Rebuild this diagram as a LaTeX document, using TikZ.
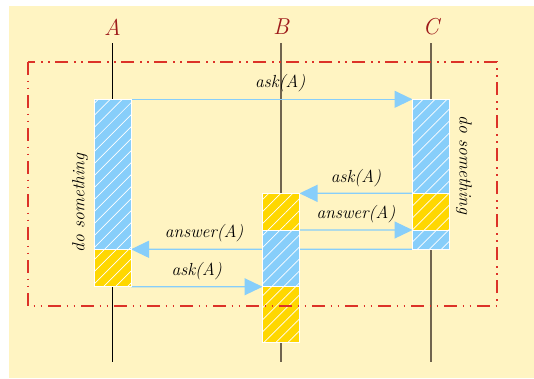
\documentclass[tikz,border=0pt]{standalone}
\usepackage{tikz}
\usetikzlibrary{arrows.meta, patterns.meta, backgrounds}

\definecolor{bgyellow}{RGB}{255,244,194}
\definecolor{skyblue}{RGB}{135,206,250}
\definecolor{gold}{RGB}{255,215,0}
\definecolor{darkred}{RGB}{158,26,26}
\definecolor{framered}{RGB}{220,50,40}
\definecolor{lifegray}{RGB}{112,100,78}

\begin{document}
\begin{tikzpicture}[
      x=1pt, y=-1pt,
      every node/.style={font=\fontsize{17.5}{21}\selectfont\itshape},
      actor/.style={font=\fontsize{23}{27}\selectfont\itshape, text=darkred, inner sep=0pt, outer sep=8pt},
      act/.style={rectangle, draw=white, line width=0.8pt, minimum width=37pt, inner sep=0pt, outer sep=0pt,
                  pattern={Lines[angle=45, distance=8.5pt, line width=0.7pt]}, pattern color=white},
      busy/.style={act, preaction={fill=skyblue}},
      wait/.style={act, preaction={fill=gold}},
      life/.style={line width=1.1pt},
      msg/.style={-{Triangle[length=18pt, width=17pt]}, draw=skyblue, line width=1.2pt},
      frame/.style={draw=framered, line width=1.4pt, dash pattern=on 13pt off 5.5pt on 1.2pt off 5.8pt on 1.2pt off 6.3pt}
    ]
      \useasboundingbox (0,0) rectangle (534,378);

      % Lifeline heads
      \node[actor] (A) at (112.5,27) {A};
      \node[actor] (B) at (281,27) {B};
      \node[actor] (C) at (431,27) {C};
      \coordinate (Aend) at (112.5,361.7);
      \coordinate (Bend) at (281,361.7);
      \coordinate (Cend) at (431,361.7);

      % Activations of A
      \node[busy, minimum height=150pt] (a1) at (112.5,174.3) {};
      \node[wait, minimum height=37.4pt, anchor=north] (a2) at (a1.south) {};

      % Activations of B
      \node[wait, minimum height=36.7pt] (b1) at (281,211.7) {};
      \node[busy, minimum height=56.7pt, anchor=north] (b2) at (b1.south) {};
      \node[wait, minimum height=56pt, anchor=north] (b3) at (b2.south) {};

      % Activations of C
      \node[busy, minimum height=94pt] (c1) at (431,146.3) {};
      \node[wait, minimum height=36.7pt, anchor=north] (c2) at (c1.south) {};
      \node[busy, minimum height=19.3pt, anchor=north] (c3) at (c2.south) {};

      % Notes
      \node[rotate=90] (noteA) at (80,203) {do something};
      \node[rotate=-90] (noteC) at (464,165) {do something};

      \begin{scope}[on background layer]
        \fill[bgyellow] (8.5,6) rectangle (534,378);

        % Lifelines
        \draw[life] (A.south) -- (Aend);
        \draw[life, lifegray] (B.south) -- (Bend);
        \draw[life, lifegray] (C.south) -- (Cend);

        % === MESSAGES ===
        \draw[msg] (a1.north east) -- node[above=3pt, pos=0.53] (m1) {ask(A)} (c1.north west);
        \draw[msg] (c2.north west) -- node[above=3pt] (m2) {ask(A)} (b1.north east);
        \draw[msg] (b2.north east) -- node[above=3pt] (m3) {answer(A)} (c3.north west);
        \draw[msg] (c3.south west) -- node[above=3pt, pos=0.74] (m4) {answer(A)} (a2.north east);
        \draw[msg] (a2.south east) -- node[above=3pt] (m5) {ask(A)} (b3.north west);
      \end{scope}

      % Frame
      \draw[frame] (28,62) rectangle (497,306);
    \end{tikzpicture}
\end{document}
